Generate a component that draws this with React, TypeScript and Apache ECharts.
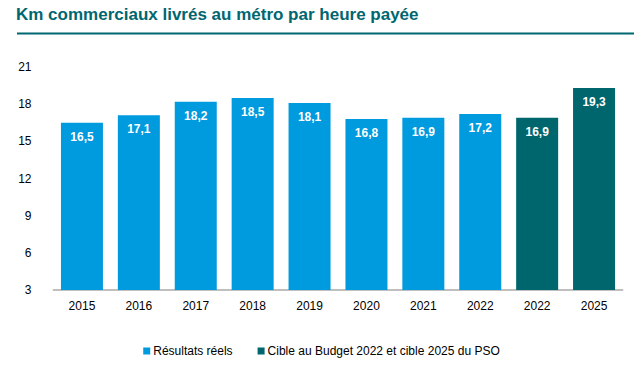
import React, { useEffect, useRef } from "react";
import * as echarts from "echarts";

const categories = ["2015", "2016", "2017", "2018", "2019", "2020", "2021", "2022", "2022", "2025"];
const actualValues: (number | null)[] = [16.5, 17.1, 18.2, 18.5, 18.1, 16.8, 16.9, 17.2, null, null];
const targetValues: (number | null)[] = [null, null, null, null, null, null, null, null, 16.9, 19.3];
const seriesNames = ["Résultats réels", "Cible au Budget 2022 et cible 2025 du PSO"];
const titleText = "Km commerciaux livrés au métro par heure payée";

const FONT = "'Liberation Sans', Arial, sans-serif";

export default function App() {
  const ref = useRef<HTMLDivElement>(null);
  useEffect(() => {
    document.body.style.margin = "0";
    if (!ref.current) return;
    const chart = echarts.init(ref.current, undefined, { renderer: "svg" });
    const label = {
      show: true,
      position: "insideTop",
      distance: 8,
      color: "#ffffff",
      fontWeight: "bold",
      fontSize: 12,
      fontFamily: FONT,
      formatter: (p: any) => String(p.value).replace(".", ","),
    };
    chart.setOption({
      animation: false,
      textStyle: { fontFamily: FONT },
      graphic: [
        {
          type: "text",
          left: 16,
          top: 6,
          style: { text: titleText, fill: "#006670", font: `bold 17px ${FONT}` },
        },
        {
          type: "line",
          shape: { x1: 17, y1: 33.5, x2: 634, y2: 33.5 },
          style: { stroke: "#006670", lineWidth: 2 },
        },
      ],
      grid: { left: 53.5, right: 20.5, top: 67, bottom: 90, containLabel: false },
      legend: {
        bottom: 18,
        left: "center",
        itemWidth: 7,
        itemHeight: 7,
        itemGap: 25,
        icon: "rect",
        textStyle: { fontSize: 12, color: "#000", fontFamily: FONT, padding: [0, 0, 0, -2] },
        data: seriesNames,
      },
      xAxis: {
        type: "category",
        data: categories,
        axisLine: { lineStyle: { color: "#BFBFBF", width: 2 } },
        axisTick: { show: false },
        axisLabel: { color: "#000", fontSize: 12, margin: 10, fontFamily: FONT },
      },
      yAxis: {
        type: "value",
        min: 3,
        max: 21,
        interval: 3,
        splitLine: { show: false },
        axisLine: { show: false },
        axisTick: { show: false },
        axisLabel: { color: "#000", fontSize: 12, margin: 22, fontFamily: FONT },
      },
      series: [
        {
          name: seriesNames[0],
          type: "bar",
          data: actualValues,
          barWidth: 42,
          barGap: "-100%",
          itemStyle: { color: "#009ADE" },
          label,
        },
        {
          name: seriesNames[1],
          type: "bar",
          data: targetValues,
          barWidth: 42,
          barGap: "-100%",
          itemStyle: { color: "#00666D" },
          label,
        },
      ],
    });
    return () => chart.dispose();
  }, []);
  return <div ref={ref} style={{ width: 643, height: 380 }} />;
}
